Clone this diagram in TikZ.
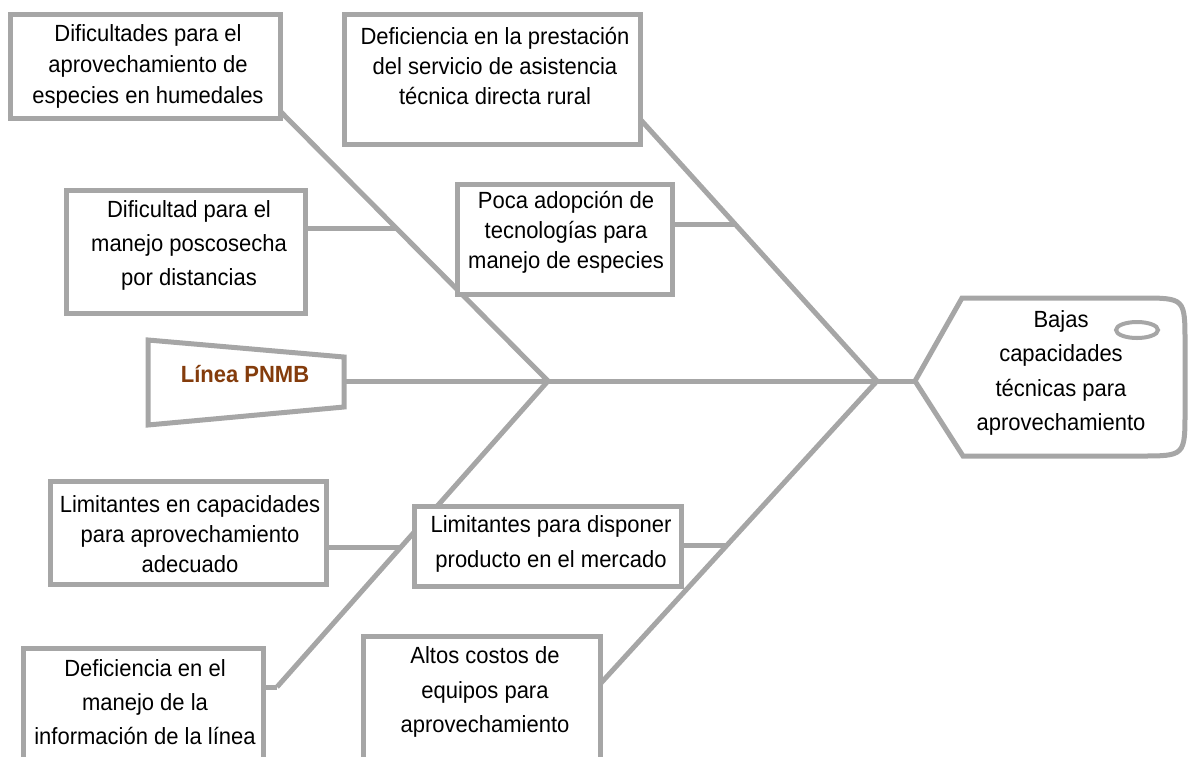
\documentclass[tikz,border=0pt]{standalone}
\usepackage{fontspec}
\setmainfont{Liberation Sans}[FakeStretch=0.94]
\definecolor{lg}{RGB}{166,166,166}
\definecolor{brn}{RGB}{132,60,12}
\begin{document}
\begin{tikzpicture}[x=1pt,y=-1pt,
  ln/.style={draw=lg,line width=5pt,line join=miter},
  cbox/.style={draw=lg,line width=5pt,fill=white,rectangle,inner sep=0pt},
  ctext/.style={align=center,inner sep=0pt,font=\fontsize{23.4}{#1}\selectfont},
  ctext/.default=31
]
\useasboundingbox (0,0) rectangle (1188,756);

% junctions and attach points
\coordinate (J1) at (548,381);
\coordinate (J2) at (877,381);
\coordinate (Pr) at (344,381);
\coordinate (Ht) at (915,381);
\coordinate (Aend) at (280,111);
\coordinate (Bend) at (640,119);
\coordinate (Gend) at (277,687);
\coordinate (Hend) at (601,683);
\coordinate (Cj) at (396,228);
\coordinate (Dj) at (735,224);
\coordinate (Ej) at (401,547);
\coordinate (Fj) at (727,545);

% bones
\draw[ln] (Pr) -- (J1) -- (J2) -- (Ht);
\draw[ln] (Aend) -- (J1) -- (Gend);
\draw[ln] (Bend) -- (J2) -- (Hend);
\draw[ln] (305,228) -- (Cj);
\draw[ln] (672,224) -- (Dj);
\draw[ln] (326,547) -- (Ej);
\draw[ln] (681,545) -- (Fj);
\draw[ln] (263,687) -- (Gend);

% boxes
\node[cbox,minimum width=270pt,minimum height=104pt] (A) at (145,66) {};
\node[cbox,minimum width=296pt,minimum height=130pt] (B) at (492,79) {};
\node[cbox,minimum width=239pt,minimum height=123pt] (C) at (185.5,251.5) {};
\node[cbox,minimum width=215pt,minimum height=110pt] (D) at (564.5,239) {};
\node[cbox,minimum width=276pt,minimum height=103pt] (E) at (188,532.5) {};
\node[cbox,minimum width=267pt,minimum height=80pt] (F) at (547.5,546) {};
\node[cbox,minimum width=240pt,minimum height=132pt] (G) at (143,714) {};
\node[cbox,minimum width=237pt,minimum height=144pt] (H) at (481.5,708) {};

\node[ctext=31] (At) at (148,66) {Dificultades para el\\aprovechamiento de\\especies en humedales};
\node[ctext=30] (Bt) at (495,66) {Deficiencia en la prestación\\del servicio de asistencia\\técnica directa rural};
\node[ctext=34] (Ct) at (189,245) {Dificultad para el\\manejo poscosecha\\por distancias};
\node[ctext=30] (Dt) at (566,232) {Poca adopción de\\tecnologías para\\manejo de especies};
\node[ctext=30] (Et) at (190,534) {Limitantes en capacidades\\para aprovechamiento\\adecuado};
\node[ctext=35] (Ft) at (551,544) {Limitantes para disponer\\producto en el mercado};
\node[ctext=34] (Gt) at (145,702) {Deficiencia en el\\manejo de la\\información de la línea};
\node[ctext=34.5] (Ht2) at (485,692) {Altos costos de\\equipos para\\aprovechamiento};

% tail (trapezoid)
\draw[draw=lg,line width=5pt,fill=white,line join=miter] (148,340) -- (344,357) -- (344,407) -- (148,425) -- cycle;
\node[inner sep=0pt,font=\fontsize{23.4}{26}\selectfont\bfseries,text=brn] (P) at (245,374) {Línea PNMB};

% head
\draw[draw=lg,line width=5pt,fill=white,line join=miter] (Ht) -- (962,298) -- (1140,298) .. controls (1185,298) .. (1185,343) -- (1185,411) .. controls (1185,456) .. (1140,456) -- (963,456) -- cycle;
\draw[draw=lg,line width=4pt] (1137,330) ellipse [x radius=21, y radius=8];
\node[ctext=34.3] (Head) at (1061,373) {Bajas\\capacidades\\técnicas para\\aprovechamiento};
\end{tikzpicture}
\end{document}
